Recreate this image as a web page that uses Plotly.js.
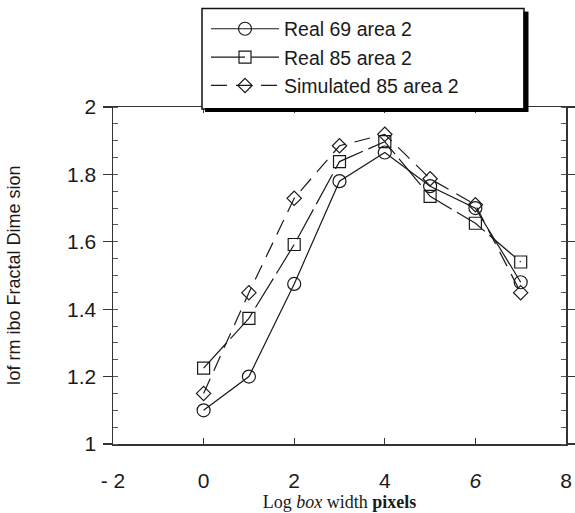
<!DOCTYPE html>
<html>
<head>
<meta charset="utf-8">
<script src="https://cdn.plot.ly/plotly-3.0.1.min.js"></script>
<style>html,body{margin:0;padding:0;background:#fff;}#chart{width:575px;height:513px;}</style>
</head>
<body>
<div id="chart"></div>
<script>
const xValues = [0, 1, 2, 3, 4, 5, 6, 7];
const real69 = [1.10, 1.20, 1.475, 1.78, 1.865, 1.765, 1.70, 1.48];
const real85 = [1.225, 1.373, 1.592, 1.838, 1.897, 1.735, 1.655, 1.54];
const sim85 = [1.15, 1.449, 1.729, 1.885, 1.919, 1.787, 1.71, 1.449];
const seriesNames = ["Real 69 area 2", "Real 85 area 2", "Simulated 85 area 2"];
const xTickVals = [-2, 0, 2, 4, 6, 8];
const xTickText = ["- 2", "0", "2", "4", "<i>6</i>", "8"];
const yTickVals = [1, 1.2, 1.4, 1.6, 1.8, 2];
const yTickText = ["1", "1.2", "1.4", "1.6", "1.8", "2"];

const ink = "#1a1a1a";
const traces = [
  {x: xValues, y: real69, name: seriesNames[0], mode: "lines+markers",
   line: {color: ink, width: 1.2},
   marker: {symbol: "circle-open", size: 13, color: ink, line: {width: 1.2}}},
  {x: xValues, y: real85, name: seriesNames[1], mode: "lines+markers",
   line: {color: ink, width: 1.2, dash: "34px,6px"},
   marker: {symbol: "square-open", size: 12, color: ink, line: {width: 1.2}}},
  {x: xValues, y: sim85, name: seriesNames[2], mode: "lines+markers",
   line: {color: ink, width: 1.2, dash: "16px,9px"},
   marker: {symbol: "diamond-open", size: 11, color: ink, line: {width: 1.2}}}
];

const px2x = p => (p - 113) / 453;
const px2y = p => (444 - p) / 339;

const layout = {
  width: 575, height: 513,
  margin: {l: 113, r: 9, t: 105, b: 69},
  paper_bgcolor: "#fff", plot_bgcolor: "#fff",
  font: {family: "Liberation Sans, Arial, sans-serif", color: ink},
  showlegend: true,
  legend: {
    x: px2x(206), y: px2y(7), xanchor: "left", yanchor: "top",
    bgcolor: "rgba(0,0,0,0)", borderwidth: 0,
    font: {size: 19.5, color: ink}, itemwidth: 68, tracegroupgap: 0
  },
  xaxis: {
    range: [-2, 8], tickvals: xTickVals, ticktext: xTickText,
    showgrid: false, zeroline: false,
    showline: true, linecolor: "#333", linewidth: 1.5, mirror: "ticks",
    ticks: "inside", ticklen: 6, tickwidth: 1.2, tickcolor: "#333",
    ticklabelstandoff: 17,
    tickfont: {size: 21, color: ink},
    title: {text: "Log <i>box</i> width <b>pixels</b>", standoff: 4,
            font: {family: "Liberation Serif, Times New Roman, serif", size: 18, color: ink}}
  },
  yaxis: {
    range: [1, 2], tickvals: yTickVals, ticktext: yTickText,
    showgrid: false, zeroline: false,
    showline: true, linecolor: "#333", linewidth: 1.5, mirror: "ticks",
    ticks: "outside", ticklen: 9, tickwidth: 1.2, tickcolor: "#333",
    minor: {dtick: 0.05, ticks: "inside", ticklen: 5, tickcolor: "#555", tickwidth: 1},
    ticklabelstandoff: 2,
    tickfont: {size: 21, color: ink},
    title: {text: "Iof rm ibo Fractal Dime sion", standoff: 42,
            font: {size: 18, color: ink}}
  },
  shapes: [
    {type: "rect", xref: "paper", yref: "paper", layer: "above",
     x0: px2x(202), x1: px2x(524), y0: px2y(107), y1: px2y(6),
     fillcolor: "#fff", line: {color: "#111", width: 1.5}},
    {type: "line", xref: "paper", yref: "paper", layer: "above",
     x0: px2x(526), x1: px2x(526), y0: px2y(9), y1: px2y(110),
     line: {color: "#000", width: 5}},
    {type: "line", xref: "paper", yref: "paper", layer: "above",
     x0: px2x(205), x1: px2x(528), y0: px2y(108), y1: px2y(108),
     line: {color: "#000", width: 4}}
  ]
};

Plotly.newPlot("chart", traces, layout, {staticPlot: true, displayModeBar: false});
</script>
</body>
</html>
